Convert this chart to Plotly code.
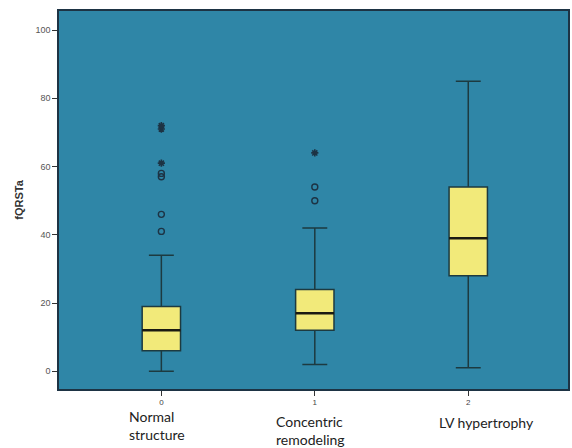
import plotly.graph_objects as go

categories = ["0", "1", "2"]
cat_names = ["Normal<br>structure", "Concentric<br>remodeling", "LV hypertrophy"]
q1 = [6, 12, 28]
median = [12, 17, 39]
q3 = [19, 24, 54]
lower = [0, 2, 1]
upper = [34, 42, 85]
circle_x = ["0", "0", "0", "0", "1", "1"]
circle_y = [41, 46, 57, 58, 50, 54]
star_x = ["0", "0", "0", "1"]
star_y = [61, 71, 72, 64]

bg = "#2f86a7"
fig = go.Figure()
fig.add_trace(go.Box(
    x=categories, q1=q1, median=median, q3=q3,
    lowerfence=lower, upperfence=upper,
    boxpoints=False, fillcolor="#f2ea7a",
    line=dict(color="#1d3a40", width=1.5),
    whiskerwidth=0.65, width=0.25, showlegend=False, hoverinfo="skip"))
# thicker dark median lines
fig.add_trace(go.Box(
    x=categories, q1=median, median=median, q3=median,
    lowerfence=median, upperfence=median,
    boxpoints=False, fillcolor="rgba(0,0,0,0)",
    line=dict(color="#1a1a12", width=2.5),
    whiskerwidth=0, width=0.25, showlegend=False, hoverinfo="skip"))
fig.add_trace(go.Scatter(
    x=circle_x, y=circle_y, mode="markers",
    marker=dict(symbol="circle-open", size=6, color="#1d3344", line=dict(width=1.4)),
    showlegend=False))
fig.add_trace(go.Scatter(
    x=star_x, y=star_y, mode="markers",
    marker=dict(symbol="asterisk-open", size=6, color="#1d3344", line=dict(width=1.6, color="#1d3344")),
    showlegend=False))

shifts = [(-4, -17), (-4, -22), (18, -23)]
for i, name in enumerate(cat_names):
    fig.add_annotation(x=categories[i], y=0, yref="paper", xshift=shifts[i][0], yshift=shifts[i][1],
                       text=name, showarrow=False, align="left", yanchor="top",
                       font=dict(family="Lato, Open Sans, sans-serif", size=14, color="#222"))

fig.update_layout(
    width=572, height=448,
    margin=dict(l=59, r=2, t=11, b=59),
    paper_bgcolor="white", plot_bgcolor=bg,
    xaxis=dict(type="category", categoryorder="array", categoryarray=categories,
               range=[-0.667, 2.65], showgrid=False, zeroline=False,
               ticks="outside", ticklen=5, tickcolor="#333", tickwidth=1,
               tickfont=dict(family="Arial", size=8, color="#444"),
               showline=True, linecolor="#1d3344", linewidth=1.5, mirror=True),
    yaxis=dict(range=[-5.2, 105.6], tickvals=[0, 20, 40, 60, 80, 100],
               showgrid=False, zeroline=False,
               ticks="outside", ticklen=5, tickcolor="#333", tickwidth=1,
               tickfont=dict(family="Arial", size=9, color="#555"),
               showline=True, linecolor="#1d3344", linewidth=1.5, mirror=True,
               title=dict(text="<b>fQRSTa</b>", font=dict(family="Arial", size=11, color="#333"), standoff=10)),
)
fig.write_html("out.html", config={"displayModeBar": False},
               post_script="document.body.style.margin='0';")
